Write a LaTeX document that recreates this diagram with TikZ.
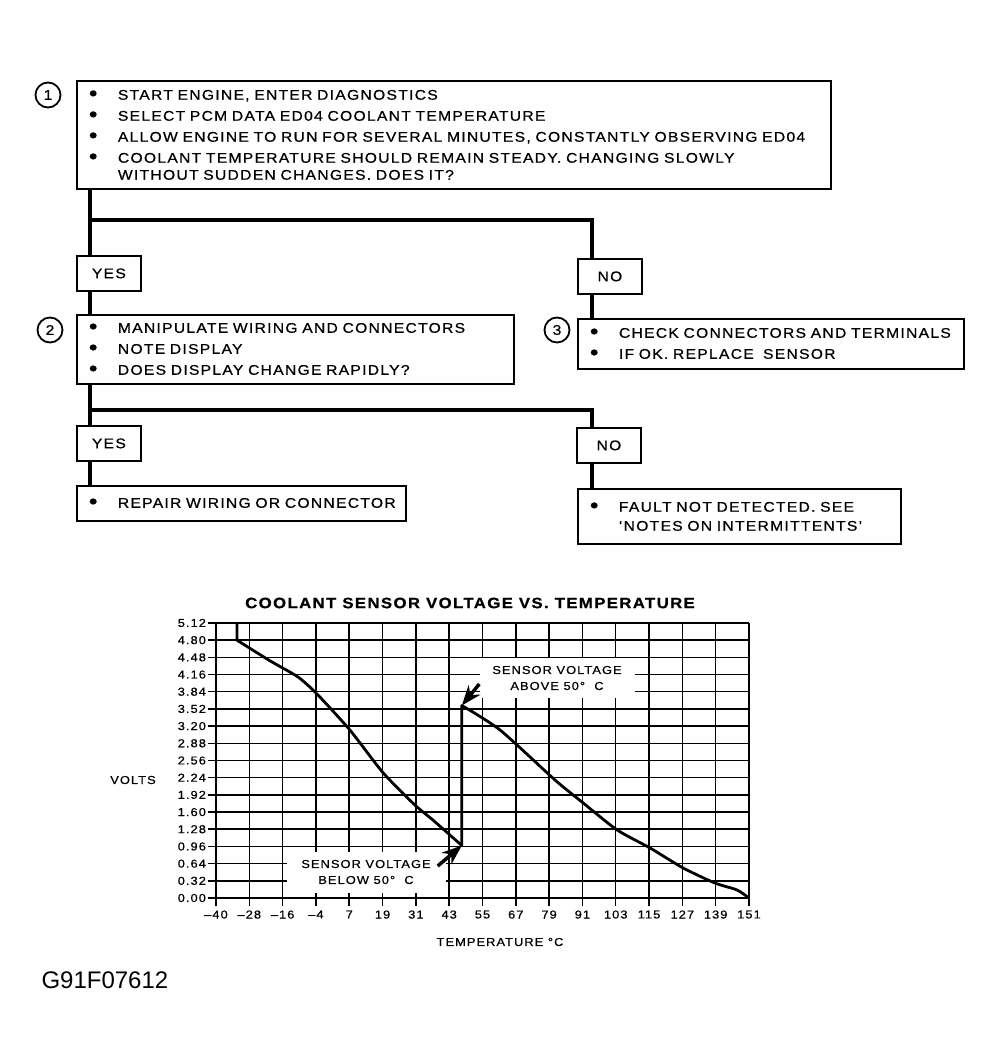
\documentclass[tikz,border=0pt]{standalone}
\usepackage{fontspec}
\setmainfont{Liberation Sans}[FakeStretch=1.12,LetterSpace=9,FakeBold=0.6]
\newfontfamily\codefont{Liberation Sans}
\usetikzlibrary{arrows.meta}
\newcommand{\itm}{\makebox[29pt][l]{\raisebox{-1pt}{\fontsize{22}{21}\selectfont\textbullet}}}
\begin{document}
\begin{tikzpicture}[x=1pt,y=-1pt,
  box/.style={draw, line width=1.8pt, fill=white, anchor=north west, inner xsep=12pt, inner ysep=0pt,
    align=left, font=\fontsize{14}{21}\selectfont},
  answer/.style={draw, line width=1.8pt, fill=white, anchor=north west, minimum width=64pt,
    minimum height=35pt, inner sep=0pt, font=\fontsize{14}{16}\selectfont},
  stepno/.style={draw, circle, line width=1.8pt, minimum size=25pt, inner sep=0pt, font=\fontsize{14}{15}\selectfont},
  link/.style={line width=3.5pt},
  gridline/.style={line width=1.5pt},
  curve/.style={line width=2.8pt, line join=round},
  note/.style={fill=white, inner sep=0pt, align=center, font=\fontsize{11.5}{16}\selectfont},
  pointer/.style={line width=3.5pt, -{Stealth[length=20pt,width=15pt]}}]
\useasboundingbox (0,0) rectangle (1002,1064);

% flow chart
\node[box, minimum width=754pt, minimum height=108pt, text width=730pt] (b1) at (76,80)
  {\itm START ENGINE, ENTER DIAGNOSTICS\\
   \itm SELECT PCM DATA ED04 COOLANT TEMPERATURE\\
   \itm ALLOW ENGINE TO RUN FOR SEVERAL MINUTES, CONSTANTLY OBSERVING ED04\\
   \itm COOLANT TEMPERATURE SHOULD REMAIN STEADY. CHANGING SLOWLY\\[-4pt]
   \hspace*{29pt}WITHOUT SUDDEN CHANGES. DOES IT?};
\node[stepno] (n1) at (48,95) {1};
\node[answer] (yes1) at (76,255) {YES};
\node[answer] (no1) at (577,258) {NO};
\node[box, minimum width=437pt, minimum height=69pt, text width=413pt] (b2) at (76,314)
  {\itm MANIPULATE WIRING AND CONNECTORS\\
   \itm NOTE DISPLAY\\
   \itm DOES DISPLAY CHANGE RAPIDLY?};
\node[stepno] (n2) at (50,330) {2};
\node[box, minimum width=386pt, minimum height=50pt, text width=362pt] (b3) at (577,318)
  {\itm CHECK CONNECTORS AND TERMINALS\\
   \itm IF OK. REPLACE \ SENSOR};
\node[stepno] (n3) at (557,330) {3};
\node[answer] (yes2) at (76,425) {YES};
\node[answer] (no2) at (576,427) {NO};
\node[box, minimum width=329pt, minimum height=35pt, text width=305pt] (b4) at (76,485)
  {\itm REPAIR WIRING OR CONNECTOR};
\node[box, minimum width=323pt, minimum height=55pt, text width=299pt] (b5) at (577,488)
  {\itm FAULT NOT DETECTED. SEE\\[-2pt]
   \hspace*{29pt}`NOTES ON INTERMITTENTS'};

\coordinate (j1) at (90,220);
\coordinate (j2) at (90,410);
\draw[link] ([xshift=14pt]b1.south west) -- ([xshift=14pt]yes1.north west);
\draw[link] (j1) -| ([xshift=15pt]no1.north west);
\draw[link] ([xshift=14pt]yes1.south west) -- ([xshift=14pt]b2.north west);
\draw[link] ([xshift=15pt]no1.south west) -- ([xshift=15pt]b3.north west);
\draw[link] ([xshift=14pt]b2.south west) -- ([xshift=14pt]yes2.north west);
\draw[link] (j2) -| ([xshift=16pt]no2.north west);
\draw[link] ([xshift=14pt]yes2.south west) -- ([xshift=14pt]b4.north west);
\draw[link] ([xshift=16pt]no2.south west) -- ([xshift=15pt]b5.north west);

% chart
\node[font=\bfseries\fontsize{15}{16}\selectfont] (title) at (470,603) {COOLANT SENSOR VOLTAGE VS. TEMPERATURE};
\node[font=\fontsize{11.5}{14}\selectfont] (volts) at (133,780) {VOLTS};
\node[font=\fontsize{11.5}{14}\selectfont] (temp) at (500,942) {TEMPERATURE °C};
\begin{scope}[shift={(216,898)}, x=33.31pt, y=17.19pt]
  \foreach \i in {0,...,16} \draw[gridline] (\i,0) -- (\i,16);
  \foreach \j in {0,...,16} \draw[gridline] (0,\j) -- (16,\j);
  \foreach \v [count=\j from 0] in {0.00,0.32,0.64,0.96,1.28,1.60,1.92,2.24,2.56,2.88,3.20,3.52,3.84,4.16,4.48,4.80,5.12}
    \draw[gridline] (-0.25,\j) -- (0,\j) node[pos=0, anchor=east, inner sep=1pt, font=\fontsize{11.5}{13}\selectfont] {\v};
  \foreach \t [count=\i from 0] in {\textendash40,\textendash28,\textendash16,\textendash4,7,19,31,43,55,67,79,91,103,115,127,139,151}
    \draw[gridline] (\i,0) -- (\i,-0.45) node[below=3pt, inner sep=1pt, font=\fontsize{11.5}{13}\selectfont] {\t};
  \coordinate (jbot) at (7.38,3.05);
  \coordinate (jtop) at (7.38,11.2);
  \draw[curve] (0.63,16) -- plot[smooth, tension=0.4] coordinates {(0.63,15) (1.62,13.8) (2.46,12.86) (3.03,11.87)
    (4.02,9.77) (5.01,7.3) (5.97,5.41) (6.51,4.54) (7.38,3.05)}
    -- plot[smooth, tension=0.4] coordinates {(7.38,11.2) (8.53,9.77) (10.18,6.86) (10.99,5.58) (12.04,3.96)
    (13.03,2.91) (14.02,1.75) (14.98,0.87) (15.64,0.47) (16,0)};
\end{scope}
\node[note, minimum width=155pt, minimum height=40pt] (abovenote) at (557,678) {SENSOR VOLTAGE\\ABOVE 50° \ C};
\node[note, minimum width=159pt, minimum height=41pt] (belownote) at (366,872) {SENSOR VOLTAGE\\BELOW 50° \ C};
\draw[pointer] ([yshift=-6pt]abovenote.west) -- (jtop);
\draw[pointer] ([xshift=-8pt,yshift=6pt]belownote.east) -- (jbot);

\node[anchor=west, font=\codefont\fontsize{24}{28}\selectfont] (figid) at (38,980) {G91F07612};
\end{tikzpicture}
\end{document}
